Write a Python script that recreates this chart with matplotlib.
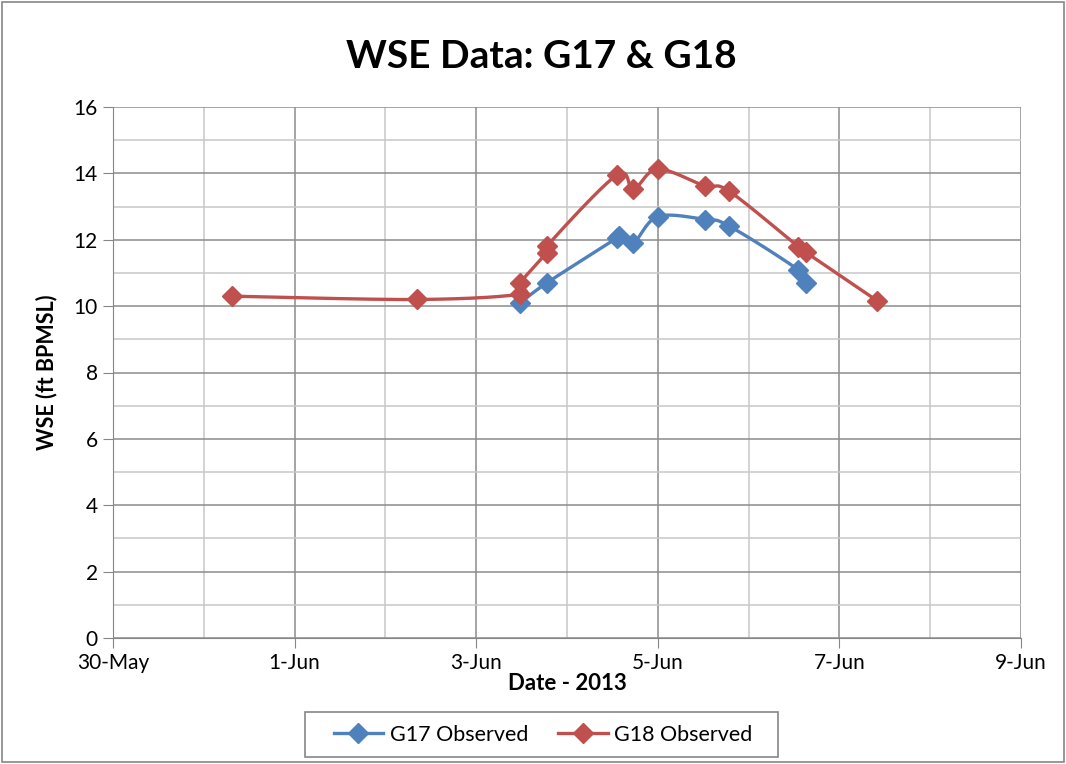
import numpy as np
import pandas as pd
import matplotlib
matplotlib.use('Agg')
import matplotlib.pyplot as plt
import matplotlib.dates as mdates
from matplotlib.patches import Rectangle

# observed water surface elevation, ft BPMSL
g17_time = ['2013-06-03 11:30', '2013-06-03 18:40', '2013-06-04 13:10', '2013-06-04 13:40',
            '2013-06-04 17:30', '2013-06-05 00:00', '2013-06-05 12:30', '2013-06-05 18:45',
            '2013-06-06 13:10', '2013-06-06 15:10']
g17_wse = [10.08, 10.70, 12.05, 12.10, 11.90, 12.70, 12.61, 12.42, 11.09, 10.69]

g18_time = ['2013-05-31 07:20', '2013-06-02 08:15', '2013-06-03 11:30', '2013-06-03 11:40',
            '2013-06-03 18:35', '2013-06-03 18:40', '2013-06-04 13:10', '2013-06-04 17:30',
            '2013-06-05 00:00', '2013-06-05 12:30', '2013-06-05 18:45', '2013-06-06 13:10',
            '2013-06-06 15:10', '2013-06-07 10:00']
g18_wse = [10.30, 10.20, 10.36, 10.70, 11.61, 11.81, 13.95, 13.52, 14.13, 13.62, 13.47,
           11.79, 11.62, 10.16]

x_start, x_end = '2013-05-30', '2013-06-09'
y_max = 16

blue = '#4F81BD'
red = '#C0504D'
frame_grey = '#868686'


def smooth(xs, ys, sx, sy, n=30):
    # excel-style smoothed line: bezier segments with catmull-rom handles
    p = np.column_stack([np.asarray(xs) / sx, np.asarray(ys) / sy])
    pts = [p[0]]
    for i in range(len(p) - 1):
        p0 = p[i - 1] if i > 0 else p[i]
        p1, p2 = p[i], p[i + 1]
        p3 = p[i + 2] if i + 2 < len(p) else p[i + 1]
        c1 = p1 + (p2 - p0) / 6
        c2 = p2 - (p3 - p1) / 6
        t = np.linspace(0, 1, n)[1:, None]
        seg = ((1 - t) ** 3 * p1 + 3 * (1 - t) ** 2 * t * c1
               + 3 * (1 - t) * t ** 2 * c2 + t ** 3 * p2)
        pts.extend(seg)
    pts = np.array(pts)
    return pts[:, 0] * sx, pts[:, 1] * sy


plt.rcParams['font.family'] = ['Lato', 'DejaVu Sans']

W, H = 1066, 764
fig = plt.figure(figsize=(W / 100, H / 100), dpi=100)
ax = fig.add_axes([113 / W, 1 - 638 / H, 908 / W, 531 / H])

x0 = mdates.date2num(pd.Timestamp(x_start))
x1 = mdates.date2num(pd.Timestamp(x_end))
span = x1 - x0

handles = []
for times, vals, col, lab in [(g17_time, g17_wse, blue, 'G17 Observed'),
                              (g18_time, g18_wse, red, 'G18 Observed')]:
    xd = mdates.date2num(pd.to_datetime(times))
    sx, sy = smooth(xd, vals, span, y_max)
    ax.plot(sx, sy, color=col, lw=2.4, zorder=3)
    ax.plot(xd, vals, 'D', color=col, ms=10, zorder=4)
    h, = ax.plot([], [], color=col, lw=2.4, marker='D', ms=10, label=lab)
    handles.append(h)

ax.set_xlim(x0, x1)
ax.set_ylim(0, y_max)
ax.set_xticks(np.arange(x0, x1 + 0.1, 2))
ax.set_xticks(np.arange(x0, x1 + 0.1, 1), minor=True)
ax.xaxis.set_major_formatter(mdates.DateFormatter('%-d-%b'))
ax.set_yticks(np.arange(0, y_max + 1, 2))
ax.set_yticks(np.arange(0, y_max + 1, 1), minor=True)

ax.grid(which='major', color='#8c8c8c', lw=1.1)
ax.grid(which='minor', color='#c8c8c8', lw=1.1)
ax.set_axisbelow(True)

for s in ['top', 'right']:
    ax.spines[s].set_visible(False)
for s in ['left', 'bottom']:
    ax.spines[s].set_color(frame_grey)
ax.tick_params(which='major', length=7, color=frame_grey, labelsize=15, pad=4)
ax.tick_params(which='minor', length=0)

fig.text(541 / W, 1 - 57 / H, 'WSE Data: G17 & G18', fontsize=28, fontweight='bold',
         ha='center', va='center')
ax.set_xlabel('Date - 2013', fontsize=16, fontweight='bold', labelpad=0)
ax.set_ylabel('WSE (ft BPMSL)', fontsize=15.5, fontweight='bold')
ax.yaxis.set_label_coords((57 - 113) / 908, 0.5)

# legend box below the plot
fig.patches.append(Rectangle((305 / W, 1 - 757 / H), 473 / W, 45 / H, transform=fig.transFigure,
                             fill=False, edgecolor=frame_grey, lw=1.2))
fig.legend(handles=handles, loc='center', bbox_to_anchor=(543 / W, 1 - 735 / H), ncol=2,
           fontsize=15.5, frameon=False, handlelength=2.3, handletextpad=0.3,
           columnspacing=1.4)

# chart border
fig.patches.append(Rectangle((0.002, 0.002), 0.996, 0.996, transform=fig.transFigure,
                             fill=False, edgecolor=frame_grey, lw=1.2))

fig.savefig('out.png', dpi=100)
